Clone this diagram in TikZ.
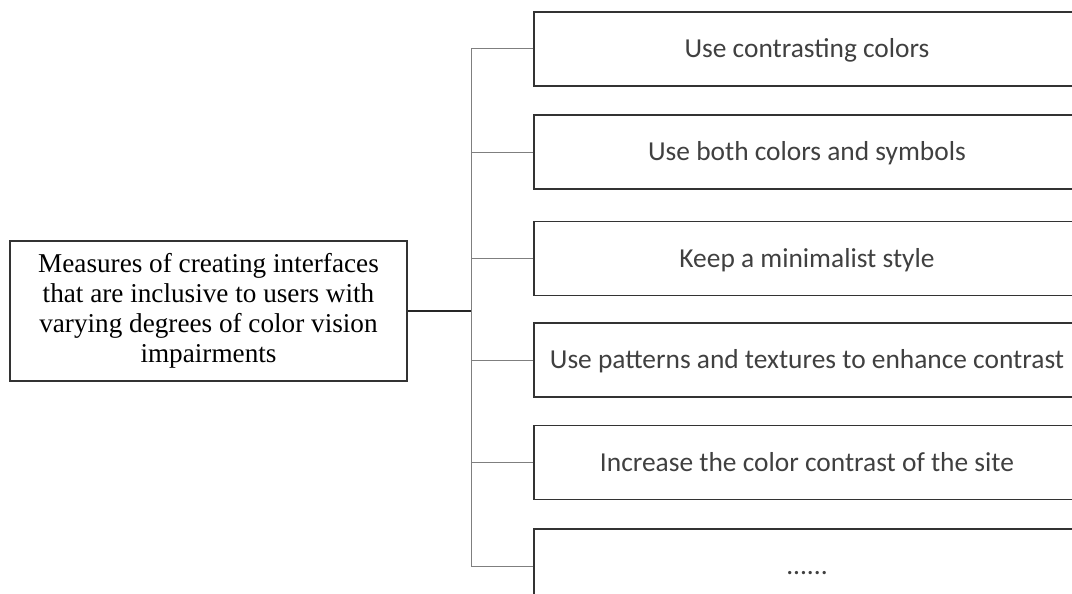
\documentclass[tikz,border=0pt]{standalone}
\usepackage{fontspec}
\setmainfont{Liberation Serif}
\newfontfamily\calib{Carlito}
\definecolor{boxline}{HTML}{333333}
\definecolor{connline}{HTML}{7F7F7F}
\definecolor{txtgray}{HTML}{404040}
\begin{document}
\begin{tikzpicture}[x=1pt,y=1pt,
  mainbox/.style={draw=boxline,line width=1.4pt,minimum width=397pt,minimum height=140pt,inner sep=0pt,
    align=center,font=\fontsize{27.2}{30}\selectfont,text=black},
  itembox/.style={draw=boxline,line width=1.4pt,minimum width=546pt,minimum height=74pt,inner sep=0pt,
    text height=20pt,text depth=3pt,
    font=\calib\fontsize{27.4}{32}\selectfont,text=txtgray},
  conn/.style={draw=connline,line width=1pt},
  mainconn/.style={draw=black!85,line width=1.1pt}]
\useasboundingbox (0,0) rectangle (1072,-594);
\clip (0,0) rectangle (1072,-594);
\node[mainbox] (m) at (208.5,-311) {Measures of creating interfaces\\that are inclusive to users with\\varying degrees of color vision\\impairments};
\node[itembox] (b1) at (807,-49) {Use contrasting colors};
\node[itembox] (b2) at (807,-152) {Use both colors and symbols};
\node[itembox] (b3) at (807,-258.5) {Keep a minimalist style};
\node[itembox] (b4) at (807,-360) {Use patterns and textures to enhance contrast};
\node[itembox] (b5) at (807,-462.5) {Increase the color contrast of the site};
\node[itembox] (b6) at (807,-566) {......};
\coordinate (t) at (471,0);
\draw[conn] (b1.west) -- (b1.west -| t) -- (b6.west -| t) -- (b6.west);
\foreach \i in {2,3,4,5} {\draw[conn] (b\i.west -| t) -- (b\i.west);}
\draw[mainconn] (m.east) -- (m.east -| t);
\end{tikzpicture}
\end{document}
